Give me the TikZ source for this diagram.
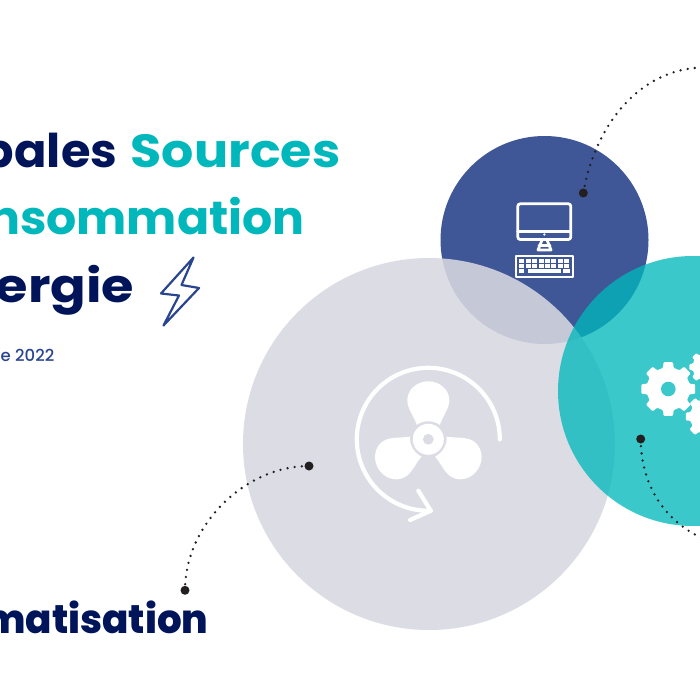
\documentclass[tikz,border=0pt]{standalone}
\usepackage{fontspec}
\setmainfont{Poppins}[BoldFont=* Bold]
\newfontfamily\heavyfont{Poppins ExtraBold}
\newfontfamily\medfont{Poppins Medium}
\definecolor{navy}{HTML}{00145A}
\definecolor{tealtxt}{HTML}{00B8BC}
\definecolor{bluetxt}{HTML}{2A4590}
\definecolor{graycirc}{HTML}{D8D9E1}
\definecolor{bluecirc}{HTML}{3F5796}
\definecolor{dotc}{HTML}{231F20}
\tikzset{
 titletext/.style={anchor=base east,inner sep=0pt,font=\fontsize{46.5}{50}\selectfont\bfseries},
 heavytext/.style={anchor=base east,inner sep=0pt,font=\fontsize{40}{44}\selectfont\heavyfont},
 subtext/.style={anchor=base east,inner sep=0pt,text=bluetxt,font=\fontsize{16.5}{18}\selectfont\medfont},
 bigdot/.style={circle,fill=dotc,inner sep=0pt,minimum size=9pt},
 dots/.style={dotc,line width=2.6pt,line cap=round,dash pattern=on 0pt off 7.2pt},
 iconline/.style={white,line width=2.8pt,line join=round,line cap=round},
}
\newcommand\gearfig[5]{% cx cy ro ri n
 \fill[white,rounded corners=1pt] ({#1+#4*cos(-16)},{#2+#4*sin(-16)})
 \foreach \k in {1,...,#5}{
   \pgfextra{\pgfmathsetmacro\ga{(\k-1)*360/#5}}
   -- ({#1+#4*cos(\ga-14)},{#2+#4*sin(\ga-14)})
   -- ({#1+#3*cos(\ga-10)},{#2+#3*sin(\ga-10)})
   -- ({#1+#3*cos(\ga+10)},{#2+#3*sin(\ga+10)})
   -- ({#1+#4*cos(\ga+14)},{#2+#4*sin(\ga+14)})
 } -- cycle;
}
\begin{document}
\begin{tikzpicture}[x=1pt,y=-1pt]
\useasboundingbox (0,0) rectangle (700,700);
\clip (0,0) rectangle (700,700);
\fill[white] (0,0) rectangle (700,700);
% circles
\fill[bluecirc] (544.5,240) circle[radius=104pt];
\fill[graycirc,fill opacity=.88] (429,444) circle[radius=186pt];
% title
\node[titletext,text=navy] (t1a) at (117.5,167.5) {\scalebox{1.03}[1]{bales}};
\node[titletext,text=tealtxt] (t1b) at (340.5,167.5) {\scalebox{1.09}[1]{Sources}};
\node[titletext,text=tealtxt] (t2) at (305,234.5) {\scalebox{1.02}[1]{nsommation}};
\node[titletext,text=navy] (t3) at (134.5,302.5) {\scalebox{1.13}[1]{ergie}};
\node[subtext] (t4) at (54.5,361) {e 2022};
\node[heavytext,text=navy] (t5) at (208.5,633) {\scalebox{.97}[1]{matisation}};
% bolt
\draw[bluetxt,line width=2.2pt,line join=round] (193.5,257.5) -- (161,293.5) -- (179,295.5) -- (163.5,325.5) -- (199,288) -- (181.5,285) -- cycle;
% fan
\begin{scope}[shift={(428.3,439.3)}]
 \foreach \a in {0,120,240}{
  \fill[white,rotate=\a] (-11.5,-14.5) .. controls (-15,-24) and (-21,-31) .. (-21,-39)
    .. controls (-21,-50) and (-11,-58) .. (0,-58)
    .. controls (11,-58) and (21,-50) .. (21,-39)
    .. controls (21,-31) and (15,-24) .. (11.5,-14.5)
    .. controls (5,-19.2) and (-5,-19.2) .. (-11.5,-14.5) -- cycle;
 }
 \fill[white,even odd rule] (0,0) circle[radius=15.5pt] (0,0) circle[radius=5.5pt];
 \coordinate (farc) at (71.5,0);
 \draw[iconline,line width=4.2pt] (farc) arc[start angle=0,end angle=272,radius=71.5pt] coordinate (ftip);
 \draw[iconline,line width=4.2pt] (-10,51.4) -- (ftip) -- (-18.3,80.7);
\end{scope}
% monitor
\draw[iconline,rounded corners=2.5pt] (517.8,203.8) rectangle (570.8,239.5);
\draw[iconline] (517.8,231.5) -- (570.8,231.5);
\fill[white] (544.3,234.5) circle[radius=1.3pt];
\draw[iconline] (542,240) -- (538,250) -- (551,250) -- (547,240);
\draw[iconline] (539,245.5) -- (550,245.5);
\draw[iconline,line width=1.9pt] (516,256) rectangle (573,277);
\foreach \r in {259,264}{
 \foreach \c in {0,...,7}{
  \fill[white] ({519.3+\c*6.4},\r) rectangle +(5,3.7);
 }
}
\fill[white] (519.3,269.3) rectangle +(5,3.4);
\fill[white] (527.7,269.3) rectangle (561,272.7);
\fill[white] (563,269.3) rectangle +(6.5,3.4);
% teal circle above the others
\fill[tealtxt,fill opacity=.77] (693,391) circle[radius=135pt];
% gears
\gearfig{668.3}{389}{27.3}{21.8}{8}
\fill[tealtxt,fill opacity=.77] (668.3,389) circle[radius=7.3pt];
\gearfig{706}{367}{17}{13.5}{8}
\gearfig{708}{416.5}{22.5}{18}{8}
% connectors
\node[bigdot] (d1) at (309,466) {};
\node[bigdot] (d2) at (185,590.3) {};
\draw[dots] (d1.center) .. controls (245,466) and (185,525) .. (d2.center);
\node[bigdot] (d3) at (583.3,193) {};
\coordinate (e3) at (704,67.5);
\draw[dots] (d3.center) .. controls (595,125) and (640,68) .. (e3);
\node[bigdot] (d4) at (640.7,439) {};
\coordinate (e4) at (706,540);
\draw[dots] (d4.center) .. controls (641,480) and (660,520) .. (e4);
\end{tikzpicture}
\end{document}
